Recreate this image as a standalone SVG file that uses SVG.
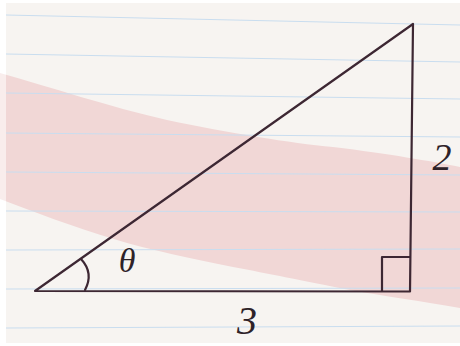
<svg xmlns="http://www.w3.org/2000/svg" width="460" height="346" viewBox="0 0 460 346">
<style>
.rule{stroke:#c9ddef;stroke-width:1;fill:none}
.ink{stroke:#3d2733;stroke-width:2.2;fill:none;stroke-linecap:round;stroke-linejoin:round}
.hand{font-family:"Liberation Serif","DejaVu Serif",serif;font-style:italic;fill:#2e2228}
</style>
<rect x="0" y="0" width="460" height="346" fill="#ffffff"/>
<rect x="6" y="3" width="454" height="340" fill="#f7f4f1"/>
<g id="band">
<path d="M0,73 C50,87 110,107 167,120 C230,133 290,143 333,147 C390,154 430,161 460,167 L460,308 C420,301 390,297 350,290 C300,280 270,274 233,267 C190,258 150,250 117,240 C70,226 35,212 0,199 Z" fill="#f1d7d6"/>
<rect x="0" y="0" width="6" height="346" fill="#ffffff" opacity="0.55"/>
</g>
<g id="rules">
<line class="rule" x1="6" y1="15" x2="460" y2="25"/>
<line class="rule" x1="6" y1="54" x2="460" y2="62"/>
<line class="rule" x1="6" y1="93" x2="460" y2="99"/>
<line class="rule" x1="6" y1="133" x2="460" y2="137"/>
<line class="rule" x1="6" y1="172" x2="460" y2="175"/>
<line class="rule" x1="6" y1="211" x2="460" y2="212"/>
<line class="rule" x1="6" y1="250" x2="460" y2="249"/>
<line class="rule" x1="6" y1="289" x2="460" y2="288"/>
<line class="rule" x1="6" y1="328" x2="460" y2="326"/>
</g>
<g id="triangle">
<path class="ink" d="M35,291 L413,24 L410,291.5 Z"/>
<path class="ink" d="M382,291 L382,257 L410,257"/>
<path class="ink" d="M81,259 Q94,273 85,290"/>
</g>
<g id="labels">
<text class="hand" x="127" y="272" font-size="34" text-anchor="middle">θ</text>
<text class="hand" x="442" y="170" font-size="38" text-anchor="middle">2</text>
<text class="hand" x="247" y="334" font-size="40" text-anchor="middle">3</text>
</g>
</svg>
